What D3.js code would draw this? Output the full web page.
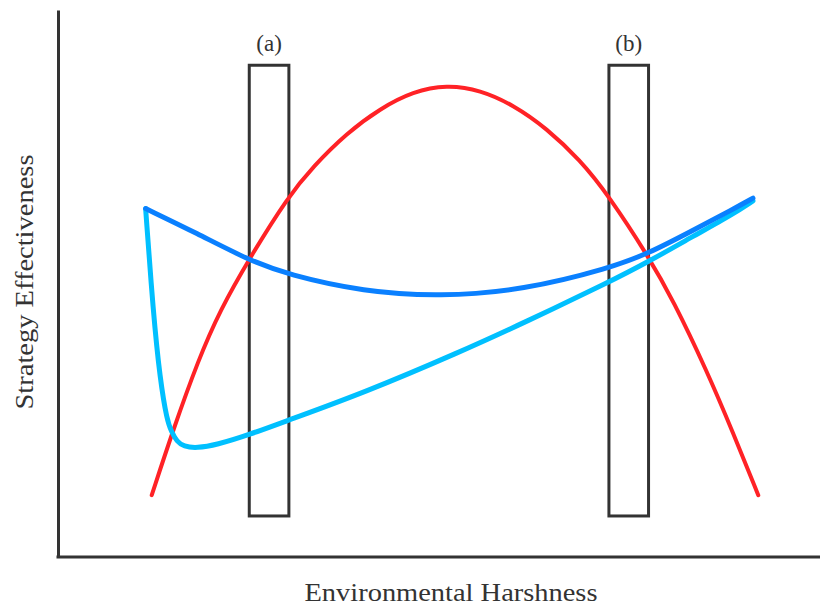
<!DOCTYPE html>
<html>
<head>
<meta charset="utf-8">
<script src="https://cdn.jsdelivr.net/npm/d3@7"></script>
<style>
  html, body { margin: 0; padding: 0; background: #fff; }
  svg { display: block; }
  .lbl { font-family: "Liberation Serif", "DejaVu Serif", serif; fill: #333; }
</style>
</head>
<body>
<svg id="chart" width="830" height="605"></svg>
<script>
// ---- data (harshness 0-100, effectiveness 0-100) ----
const redX  = [12.3, 15.1, 18.4, 21.3, 25.0, 30.2, 33.5, 37.9, 42.3, 46.6, 51.0, 55.4, 59.8, 64.1, 68.5, 72.2, 77.5, 80.7, 85.1, 88.6, 91.9];
const redY  = [11.3, 23.2, 36.0, 45.2, 54.3, 65.9, 71.4, 77.5, 82.0, 85.1, 86.3, 85.4, 82.6, 78.4, 72.6, 66.2, 54.9, 47.0, 34.2, 22.7, 11.3];

const blueX = [11.5, 18.2, 25.0, 30.2, 40.1, 50.1, 61.1, 72.4, 77.5, 83.3, 88.6, 91.2];
const blueY = [63.7, 59.2, 54.3, 51.6, 48.5, 47.6, 48.8, 52.8, 55.5, 59.7, 63.6, 65.6];

const cyanX = [11.5, 12.5, 13.4, 14.3, 14.9, 15.6, 16.5, 18.2, 20.8, 25.0, 30.2, 40.1, 52.8, 61.1, 72.4, 77.5, 83.3, 88.6, 91.2];
const cyanY = [63.7, 44.6, 32.4, 25.0, 22.9, 21.1, 20.2, 19.9, 20.5, 22.3, 25.0, 30.0, 37.5, 42.8, 50.3, 54.0, 58.6, 62.7, 65.1];

const bandLabels = ["(a)", "(b)"];
const bandStart  = [25.1, 72.3];
const bandEnd    = [30.3, 77.5];
const bandLow    = 7.5;
const bandHigh   = 89.9;

const xTitle = "Environmental Harshness";
const yTitle = "Strategy Effectiveness";

// ---- layout ----
const svg = d3.select("#chart");
const mLeft = 58, mRight = 820, mTop = 10, mBottom = 557;
const x = d3.scaleLinear().domain([0, 100]).range([mLeft, mRight]);
const y = d3.scaleLinear().domain([0, 100]).range([mBottom, mTop]);

// bands
bandLabels.forEach((lab, i) => {
  svg.append("rect")
    .attr("x", x(bandStart[i]))
    .attr("y", y(bandHigh))
    .attr("width", x(bandEnd[i]) - x(bandStart[i]))
    .attr("height", y(bandLow) - y(bandHigh))
    .attr("fill", "none")
    .attr("stroke", "#333")
    .attr("stroke-width", 3);
  svg.append("text")
    .attr("class", "lbl")
    .attr("x", (x(bandStart[i]) + x(bandEnd[i])) / 2)
    .attr("y", y(bandHigh) - 14)
    .attr("text-anchor", "middle")
    .attr("font-size", 23)
    .text(lab);
});

// curves
const line = d3.line().x(d => x(d[0])).y(d => y(d[1])).curve(d3.curveBasis);
const series = [
  {xs: redX,  ys: redY,  color: "#ff2226", w: 4},
  {xs: cyanX, ys: cyanY, color: "#00c0ff", w: 5},
  {xs: blueX, ys: blueY, color: "#0a80ff", w: 5}
];
series.forEach(s => {
  svg.append("path")
    .datum(s.xs.map((v, i) => [v, s.ys[i]]))
    .attr("d", line)
    .attr("fill", "none")
    .attr("stroke", s.color)
    .attr("stroke-width", s.w)
    .attr("stroke-linecap", "round")
    .attr("stroke-linejoin", "round");
});

// axes (plain lines, no ticks)
const xAxis = svg.append("g").attr("transform", `translate(0,${mBottom})`)
  .call(d3.axisBottom(x).tickValues([]).tickSizeOuter(0));
const yAxis = svg.append("g").attr("transform", `translate(${mLeft},0)`)
  .call(d3.axisLeft(y).tickValues([]).tickSizeOuter(0));
[xAxis, yAxis].forEach(g => g.select(".domain").attr("stroke", "#333").attr("stroke-width", 3));
xAxis.select(".domain").attr("d", `M${mLeft - 1.5},0H${mRight}`);

// titles
svg.append("text")
  .attr("class", "lbl")
  .attr("x", 451).attr("y", 601)
  .attr("text-anchor", "middle")
  .attr("font-size", 25)
  .attr("textLength", 293)
  .attr("lengthAdjust", "spacingAndGlyphs")
  .text(xTitle);

svg.append("text")
  .attr("class", "lbl")
  .attr("transform", "translate(33,282) rotate(-90)")
  .attr("text-anchor", "middle")
  .attr("font-size", 25)
  .attr("textLength", 255)
  .attr("lengthAdjust", "spacingAndGlyphs")
  .text(yTitle);
</script>
</body>
</html>
